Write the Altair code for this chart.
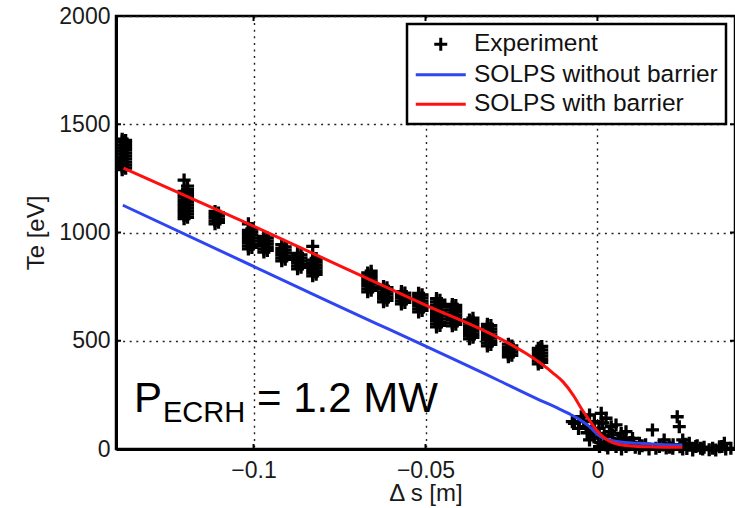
import altair as alt
import pandas as pd

# ---------------------------------------------------------------------------
# Experimental Te profile: stacks of measurements at fixed radial positions.
# Each stack is stored as two slightly offset columns of points.
# ---------------------------------------------------------------------------
stack_x = [
    -0.1382, -0.1372,
    -0.1202, -0.1192,
    -0.1112, -0.1102,
    -0.1015, -0.1005,
    -0.0970, -0.0960,
    -0.0918, -0.0908,
    -0.0872, -0.0862,
    -0.0828, -0.0818,
    -0.0668, -0.0658,
    -0.0622, -0.0612,
    -0.0570, -0.0560,
    -0.0520, -0.0510,
    -0.0468, -0.0458,
    -0.0422, -0.0412,
    -0.0372, -0.0362,
    -0.0320, -0.0310,
    -0.0259, -0.0249,
    -0.0172, -0.0162,
]
stack_y = [
    [1290, 1304, 1318, 1333, 1347, 1362, 1376, 1390, 1404, 1419, 1431],
    [1297, 1311, 1325, 1340, 1354, 1368, 1383, 1397, 1411, 1425],
    [1064, 1078, 1093, 1106, 1121, 1134, 1149, 1163, 1176, 1190, 1242],
    [1070, 1085, 1099, 1113, 1127, 1141, 1156, 1170, 1184, 1198, 1214],
    [1040, 1054, 1069, 1083, 1097], [1047, 1061, 1076, 1090],
    [924, 938, 953, 967, 981, 996, 1010, 1040], [931, 945, 960, 974, 988, 1003, 1017],
    [910, 924, 939, 953, 968, 982], [917, 931, 946, 960, 975],
    [869, 883, 898, 912, 927, 944], [876, 890, 905, 919, 934],
    [832, 846, 861, 875, 890, 904], [839, 853, 868, 882, 897],
    [800, 814, 829, 843, 858, 872, 936], [807, 821, 836, 850, 865, 880],
    [726, 740, 755, 769, 784, 798, 813], [733, 747, 762, 776, 791, 805, 821],
    [680, 694, 709, 723, 738, 751], [687, 701, 716, 730, 745],
    [670, 684, 699, 713, 727], [677, 691, 706, 720],
    [633, 647, 662, 676, 691, 705, 719], [640, 654, 669, 683, 698, 712],
    [564, 578, 593, 607, 622, 636, 651, 665, 680, 695],
    [571, 585, 600, 614, 629, 643, 658, 672, 687],
    [569, 583, 598, 612, 627, 641, 656, 668], [576, 590, 605, 619, 634, 648, 663],
    [509, 523, 538, 552, 567, 581, 596], [516, 530, 545, 559, 574, 588, 604],
    [476, 490, 505, 519, 534, 548, 563, 576], [483, 497, 512, 526, 541, 555, 570],
    [426, 440, 455, 469, 484], [433, 447, 462, 476],
    [393, 407, 422, 436, 451, 465], [400, 414, 429, 443, 458, 474],
]

# Scrape-off layer measurements around the separatrix
sol_x = [-0.0073, -0.0067, -0.0047, -0.0033, -0.0023, -0.0009, 0.0011, 0.0025,
         0.0040, 0.0054, 0.0001, 0.0020, 0.0044, 0.0069, 0.0083, 0.0102,
         0.0122, 0.0160, 0.0194, 0.0232, 0.0238, 0.0248, 0.0267, 0.0286,
         0.0306, 0.0335, 0.0369, 0.0373, 0.0025, 0.0054, 0.0083, 0.0122,
         0.0170, 0.0219, 0.0006, -0.0023, 0.0248, 0.0277, 0.0344, 0.0388,
         -0.0010, -0.0030, 0.0010, 0.0030, 0.0050, 0.0060, 0.0070, 0.0090,
         0.0095, 0.0110, 0.0130, 0.0150, 0.0180, 0.0200, 0.0220, 0.0240,
         0.0260, 0.0290, 0.0310, 0.0355, -0.0055, -0.0040, -0.0015, 0.0005,
         0.0015, 0.0035, 0.0062, 0.0078, 0.0105, 0.0140, 0.0190, 0.0210,
         0.0255, 0.0300, 0.0325, 0.0362]
sol_y = [126, 118, 149, 103, 157, 126, 165, 142,
         103, 111, 72, 57, 65, 72, 80, 49,
         26, 88, 42, 149, 103, 42, 26, 11,
         0, 3, 26, 0, 18, 11, 11, 3,
         3, 3, 11, 42, 0, -5, -5, 3,
         55, 75, 30, 5, 25, 45, 0, 20,
         30, 8, 15, 0, 12, 5, 20, 10,
         2, 15, 8, 10, 95, 130, 88, 95,
         120, 80, 35, 50, 28, 20, 18, 8,
         22, 4, -3, 12]

# SOLPS simulations
solps_no_barrier_x = [-0.1380, -0.0800, -0.0293, -0.0168, -0.0120, -0.0081, -0.0050,
                      -0.0023, 0.0006, 0.0044, 0.0080, 0.0122, 0.0180, 0.0247]
solps_no_barrier_y = [1126, 695, 321, 226, 192, 162, 134,
                      103, 60, 38, 30, 26, 21, 18]

solps_barrier_x = [-0.1378, -0.1000, -0.0500, -0.0286, -0.0206, -0.0160, -0.0130,
                   -0.0100, -0.0070, -0.0044, -0.0020, -0.0003, 0.0015, 0.0035,
                   0.0060, 0.0100, 0.0150, 0.0200, 0.0247]
solps_barrier_y = [1297, 1029, 665, 512, 440, 390, 352,
                   310, 248, 180, 125, 88, 58, 36,
                   22, 14, 10, 8, 8]

# axis tick positions
x_ticks = [-0.1, -0.05, 0]
y_ticks = [0, 500, 1000, 1500, 2000]

series_names = ["Experiment", "SOLPS without barrier", "SOLPS with barrier"]
series_colors = ["#000000", "#2f45f2", "#ff1010"]
# plus marker for the measurements, 50 px strokes for the simulations
series_shapes = ["M-0.65,0H0.65M0,-0.65V0.65", "M-2.5,0H2.5", "M-2.5,0H2.5"]

# ---------------------------------------------------------------------------
rows = []
for xv, ys in zip(stack_x, stack_y):
    for yv in ys:
        rows.append({"x": xv, "y": yv, "series": "Experiment"})
for xv, yv in zip(sol_x, sol_y):
    rows.append({"x": xv, "y": yv, "series": "Experiment"})
exp_df = pd.DataFrame(rows)

no_barrier_df = pd.DataFrame({"x": solps_no_barrier_x, "y": solps_no_barrier_y,
                              "series": "SOLPS without barrier"})
barrier_df = pd.DataFrame({"x": solps_barrier_x, "y": solps_barrier_y,
                           "series": "SOLPS with barrier"})

FONT = "Liberation Sans"
W, H = 619, 433
TICK = 5

x_scale = alt.Scale(domain=[-0.14, 0.04], nice=False, zero=False)
y_scale = alt.Scale(domain=[0, 2000], nice=False)
color_scale = alt.Scale(domain=series_names, range=series_colors)
shape_scale = alt.Scale(domain=series_names, range=series_shapes)

x_axis = alt.Axis(values=x_ticks, format="~g", title="Δ s [m]",
                  titleX=W / 2, titleY=51, titleBaseline="alphabetic",
                  labelBaseline="alphabetic", labelPadding=28)
y_axis = alt.Axis(values=y_ticks, format="d", title="Te [eV]",
                  titleX=-73, titleY=H / 2, titleBaseline="alphabetic",
                  titleAngle=-90, labelPadding=6)

legend = alt.Legend(title=None, orient="none", legendX=291, legendY=8,
                    labelFont=FONT, labelFontSize=24.5, labelColor="#111",
                    symbolSize=400, symbolStrokeWidth=3, symbolOpacity=1,
                    symbolOffset=13.5, labelOffset=21, rowPadding=4.5, padding=8,
                    strokeColor="black", fillColor="white", labelLimit=400)

points = alt.Chart(exp_df).mark_point(
    filled=False, size=400, strokeWidth=3.3, opacity=1
).encode(
    x=alt.X("x:Q", scale=x_scale, axis=x_axis),
    y=alt.Y("y:Q", scale=y_scale, axis=y_axis),
    color=alt.Color("series:N", scale=color_scale, legend=legend),
    shape=alt.Shape("series:N", scale=shape_scale, legend=legend),
)

def solps_line(df):
    return alt.Chart(df).mark_line(strokeWidth=3, interpolate="monotone").encode(
        x=alt.X("x:Q", scale=x_scale, axis=x_axis),
        y=alt.Y("y:Q", scale=y_scale, axis=y_axis),
        color=alt.Color("series:N", scale=color_scale, legend=legend),
    )

# inward tick marks on all four sides of the box
xt = pd.DataFrame({"x": x_ticks})
yt = pd.DataFrame({"y": y_ticks})
tick_style = dict(color="black", strokeWidth=2)
x_ticks_bottom = alt.Chart(xt).mark_rule(**tick_style).encode(
    x=alt.X("x:Q", scale=x_scale, axis=x_axis), y=alt.value(H), y2=alt.value(H - TICK))
x_ticks_top = alt.Chart(xt).mark_rule(**tick_style).encode(
    x=alt.X("x:Q", scale=x_scale, axis=x_axis), y=alt.value(0), y2=alt.value(TICK))
y_ticks_left = alt.Chart(yt).mark_rule(**tick_style).encode(
    y=alt.Y("y:Q", scale=y_scale, axis=y_axis), x=alt.value(0), x2=alt.value(TICK))
y_ticks_right = alt.Chart(yt).mark_rule(**tick_style).encode(
    y=alt.Y("y:Q", scale=y_scale, axis=y_axis), x=alt.value(W), x2=alt.value(W - TICK))

# P_ECRH annotation, subscript drawn as a smaller text
def label(text, px, py, size):
    return alt.Chart(pd.DataFrame({"t": [text]})).mark_text(
        align="left", baseline="alphabetic", font=FONT, fontSize=size, color="black"
    ).encode(text="t:N", x=alt.value(px), y=alt.value(py))

chart = alt.layer(
    x_ticks_bottom, x_ticks_top, y_ticks_left, y_ticks_right,
    points,
    solps_line(no_barrier_df),
    solps_line(barrier_df),
    label("P", 18, 396, 42),
    label("ECRH", 47, 406, 29),
    label("= 1.2 MW", 141, 396, 42),
).properties(
    width=W, height=H,
    autosize=alt.AutoSizeParams(type="none"),
    padding={"left": 116, "top": 16, "right": 0, "bottom": 59},
).configure_view(
    stroke="black", strokeWidth=2.5
).configure_axis(
    labelFont=FONT, labelFontSize=23, labelColor="#1a1a1a",
    titleFont=FONT, titleFontSize=24, titleFontWeight="normal", titleColor="#1a1a1a",
    domainColor="black", domainWidth=3,
    ticks=False, tickSize=0,
    grid=True, gridColor="#222", gridDash=[2, 4.6], gridWidth=1.4, gridOpacity=1,
    labelOverlap=False, labelFlush=False,
).configure_legend(
    strokeWidth=2.5
)

chart.save("out.html", embed_options={"renderer": "svg", "actions": False})
